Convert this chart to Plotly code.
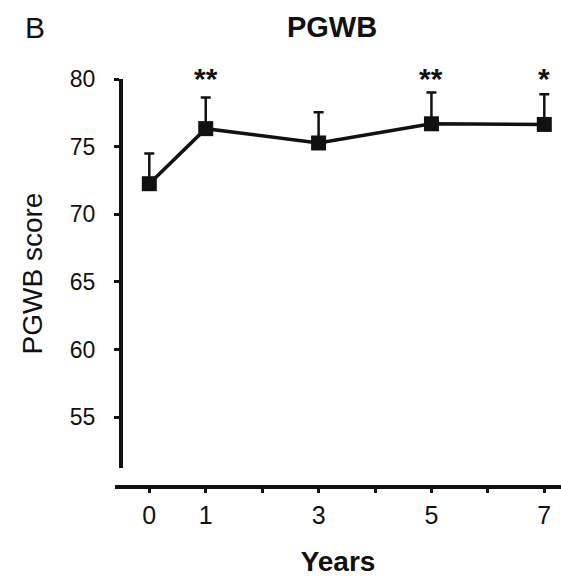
import plotly.graph_objects as go

# ---- data ----
years = [0, 1, 3, 5, 7]
pgwb_mean = [72.26, 76.33, 75.27, 76.69, 76.64]
pgwb_sd = [2.23, 2.31, 2.27, 2.31, 2.24]
significance = ["", "**", "", "**", "*"]
x_tick_vals = [0, 1, 2, 3, 4, 5, 6, 7]
x_tick_text = ["0", "1", "", "3", "", "5", "", "7"]
y_tick_vals = [55, 60, 65, 70, 75, 80]

FONT = "Liberation Sans, Arial, sans-serif"
INK = "#111111"

fig = go.Figure()
fig.add_trace(go.Scatter(
    x=years, y=pgwb_mean,
    mode="lines+markers",
    line=dict(color=INK, width=3.5),
    marker=dict(symbol="square", size=15, color=INK),
    error_y=dict(type="data", symmetric=False, array=pgwb_sd,
                 arrayminus=[0] * len(years), color=INK, thickness=2.5, width=5),
    cliponaxis=False,
    showlegend=False,
))

for yr, m, s, sig in zip(years, pgwb_mean, pgwb_sd, significance):
    if sig:
        fig.add_annotation(x=yr, y=80, yref="y", text="<b>" + sig + "</b>", showarrow=False,
                           yanchor="middle", yshift=1,
                           font=dict(family=FONT, size=30, color=INK))

fig.add_annotation(xref="paper", yref="paper", x=-0.179, y=1.127, text="B",
                   showarrow=False, xanchor="center", yanchor="middle",
                   font=dict(family=FONT, size=30, color=INK))

fig.update_layout(
    width=561, height=577,
    margin=dict(l=115, r=0, t=79, b=90),
    paper_bgcolor="white", plot_bgcolor="white",
    title=dict(text="<b>PGWB</b>", xref="container", yref="container",
               x=332 / 561, y=1 - 27 / 577, xanchor="center", yanchor="middle",
               font=dict(family=FONT, size=29, color=INK)),
    xaxis=dict(range=[-0.608, 7.296], anchor="free", position=0,
               tickvals=x_tick_vals, ticktext=x_tick_text,
               ticks="outside", ticklen=4, tickwidth=3, tickcolor=INK,
               showline=True, linewidth=4, linecolor=INK,
               showgrid=False, zeroline=False,
               ticklabelstandoff=1,
               tickfont=dict(family=FONT, size=25, color=INK),
               title=dict(text="<b>Years</b>", standoff=22,
                          font=dict(family=FONT, size=28, color=INK))),
    yaxis=dict(range=[51.24, 80], domain=[0.0466, 1], anchor="free", position=6 / 446,
               tickvals=y_tick_vals,
               ticks="outside", ticklen=5, tickwidth=3, tickcolor=INK,
               showline=True, linewidth=4, linecolor=INK,
               showgrid=False, zeroline=False,
               ticklabelstandoff=14,
               tickfont=dict(family=FONT, size=23, color=INK),
               title=dict(text="PGWB score", standoff=18,
                          font=dict(family=FONT, size=28, color=INK))),
)

fig.write_html("out.html")
